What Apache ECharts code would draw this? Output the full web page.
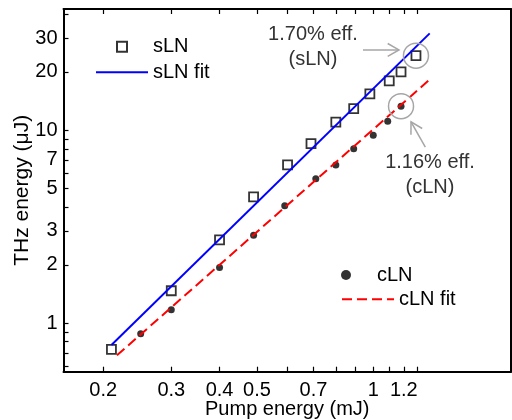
<!DOCTYPE html>
<html>
<head>
<meta charset="utf-8">
<script src="https://cdn.jsdelivr.net/npm/echarts@6/dist/echarts.min.js"></script>
<style>
html, body { margin: 0; padding: 0; background: #fff; }
#chart { width: 512px; height: 420px; }
</style>
</head>
<body>
<div id="chart"></div>
<script>
// pump energy (mJ) and THz energy (uJ)
const sLNPump = [0.21, 0.3, 0.4, 0.49, 0.6, 0.69, 0.8, 0.89, 0.98, 1.1, 1.18, 1.29]
const sLNTHz = [0.73, 1.47, 2.7, 4.5, 6.6, 8.5, 11.0, 12.9, 15.4, 18.0, 20.0, 24.3]
const cLNPump = [0.25, 0.3, 0.4, 0.49, 0.59, 0.71, 0.8, 0.89, 1.0, 1.09, 1.18]
const cLNTHz = [0.88, 1.17, 1.94, 2.85, 4.05, 5.6, 6.6, 8.0, 9.4, 11.1, 13.3]

// fit lines (end points)
const sLNFitPump = [0.21, 1.4]
const sLNFitTHz = [0.77, 31.7]
const cLNFitPump = [0.217, 1.41]
const cLNFitTHz = [0.68, 18.5]

const xTicks = [0.2, 0.3, 0.4, 0.5, 0.6, 0.7, 0.8, 0.9, 1, 1.1, 1.2, 1.3]
const xTickLabels = [0.2, 0.3, 0.4, 0.5, 0.7, 1, 1.2]
const yTicks = [0.6, 0.7, 0.8, 0.9, 1, 2, 3, 4, 5, 6, 7, 8, 9, 10, 20, 30, 40]
const yTickLabels = [1, 2, 3, 5, 7, 10, 20, 30]

const FONT = '"Liberation Sans", Arial, sans-serif'
const GRAY = '#a6a6a6'
// square in the middle of a 52x10 box (the lone moves only widen the box)
const LEGEND_SQUARE = 'path://M-21,0M31,10M0,0H10V10H0Z'

const zip = (xs, ys) => xs.map((x, i) => [x, ys[i]])

const xRange = { min: 0.1578, max: 2.273 }
const yRange = { min: 0.5594, max: 42.4 }

const frame = { show: true, lineStyle: { color: '#000', width: 2 } }
const ticks = (values) => ({ show: true, inside: true, length: 5, customValues: values, lineStyle: { color: '#000', width: 1.2 } })

// one legend per entry so each can sit where the original put it
function legendAt (item, left, top) {
  return {
    data: [item],
    left: left,
    top: top,
    padding: 0,
    itemWidth: 52,
    itemHeight: 10,
    selectedMode: false,
    textStyle: { fontFamily: FONT, fontSize: 20, color: '#000' }
  }
}

const chart = echarts.init(document.getElementById('chart'))

chart.setOption({
  animation: false,
  grid: { left: 63.5, right: 1, top: 9, bottom: 48.3, outerBoundsMode: 'none', containLabel: false },
  legend: [
    legendAt({ name: 'sLN', icon: LEGEND_SQUARE }, 95, 36.7),
    legendAt({ name: 'sLN fit', itemStyle: { opacity: 0 } }, 95, 62.3),
    legendAt({ name: 'cLN' }, 341, 265),
    legendAt({ name: 'cLN fit', itemStyle: { opacity: 0 } }, 341, 289.3)
  ],
  xAxis: [
    {
      type: 'log',
      min: xRange.min,
      max: xRange.max,
      name: 'Pump energy (mJ)',
      nameLocation: 'middle',
      nameGap: 28,
      nameMoveOverlap: false,
      nameTextStyle: { fontFamily: FONT, fontSize: 20, color: '#000' },
      axisLine: frame,
      axisTick: ticks(xTicks),
      minorTick: { show: false },
      splitLine: { show: false },
      axisLabel: { customValues: xTickLabels, margin: 9, fontFamily: FONT, fontSize: 20, color: '#000' }
    },
    {
      type: 'log',
      position: 'top',
      min: xRange.min,
      max: xRange.max,
      axisLine: frame,
      axisTick: ticks(xTicks),
      splitLine: { show: false },
      axisLabel: { show: false }
    }
  ],
  yAxis: [
    {
      type: 'log',
      min: yRange.min,
      max: yRange.max,
      name: 'THz energy (μJ)',
      nameLocation: 'middle',
      nameGap: 31,
      nameMoveOverlap: false,
      nameTextStyle: { fontFamily: FONT, fontSize: 21, color: '#000' },
      axisLine: frame,
      axisTick: ticks(yTicks),
      splitLine: { show: false },
      axisLabel: { customValues: yTickLabels, margin: 6, fontFamily: FONT, fontSize: 20, color: '#000' }
    },
    {
      type: 'log',
      position: 'right',
      min: yRange.min,
      max: yRange.max,
      axisLine: frame,
      axisTick: { show: false },
      splitLine: { show: false },
      axisLabel: { show: false }
    }
  ],
  series: [
    {
      name: 'sLN fit',
      type: 'line',
      data: zip(sLNFitPump, sLNFitTHz),
      symbol: 'none',
      lineStyle: { color: '#0000ff', width: 2 },
      itemStyle: { color: '#0000ff' }
    },
    {
      name: 'cLN fit',
      type: 'line',
      data: zip(cLNFitPump, cLNFitTHz),
      symbol: 'none',
      lineStyle: { color: '#ff0000', width: 2, type: [10, 5] },
      itemStyle: { color: '#ff0000' }
    },
    {
      name: 'sLN',
      type: 'scatter',
      data: zip(sLNPump, sLNTHz),
      symbol: 'rect',
      symbolSize: 9,
      itemStyle: { color: 'rgba(255,255,255,0)', borderColor: '#000', borderWidth: 1.8 },
      markPoint: {
        silent: true,
        symbol: 'circle',
        symbolSize: 25,
        label: { show: false },
        itemStyle: { color: 'rgba(0,0,0,0)', borderColor: GRAY, borderWidth: 1.5 },
        data: [{ coord: [sLNPump[sLNPump.length - 1], sLNTHz[sLNTHz.length - 1]] }]
      }
    },
    {
      name: 'cLN',
      type: 'scatter',
      data: zip(cLNPump, cLNTHz),
      symbol: 'circle',
      symbolSize: 7,
      itemStyle: { color: '#000' },
      markPoint: {
        silent: true,
        symbol: 'circle',
        symbolSize: 25,
        label: { show: false },
        itemStyle: { color: 'rgba(0,0,0,0)', borderColor: GRAY, borderWidth: 1.5 },
        data: [{ coord: [cLNPump[cLNPump.length - 1], cLNTHz[cLNTHz.length - 1]] }]
      }
    }
  ]
})

// arrows + efficiency notes, placed relative to the circled points
function arrow (tail, tip) {
  const ang = Math.atan2(tip[1] - tail[1], tip[0] - tail[0])
  const head = 13
  const spread = 0.52
  const p1 = [tip[0] - head * Math.cos(ang - spread), tip[1] - head * Math.sin(ang - spread)]
  const p2 = [tip[0] - head * Math.cos(ang + spread), tip[1] - head * Math.sin(ang + spread)]
  const style = { stroke: GRAY, lineWidth: 1.5, fill: null }
  return [
    { type: 'line', silent: true, shape: { x1: tail[0], y1: tail[1], x2: tip[0], y2: tip[1] }, style: style },
    { type: 'polyline', silent: true, shape: { points: [p1, tip, p2] }, style: style }
  ]
}

function note (text, x, y) {
  return {
    type: 'text',
    silent: true,
    x: x,
    y: y,
    style: {
      text: text,
      fontFamily: FONT,
      fontSize: 20,
      lineHeight: 25,
      fill: '#333',
      align: 'center',
      verticalAlign: 'middle'
    }
  }
}

const ps = chart.convertToPixel({ seriesIndex: 2 }, [sLNPump[sLNPump.length - 1], sLNTHz[sLNTHz.length - 1]])
const pc = chart.convertToPixel({ seriesIndex: 3 }, [cLNPump[cLNPump.length - 1], cLNTHz[cLNTHz.length - 1]])

chart.setOption({
  graphic: [
    note('1.70% eff.\n(sLN)', ps[0] - 103, ps[1] - 9),
    ...arrow([ps[0] - 53, ps[1] - 5.7], [ps[0] - 17, ps[1] - 5.7]),
    note('1.16% eff.\n(cLN)', pc[0] + 29, pc[1] + 69),
    ...arrow([pc[0] + 24.3, pc[1] + 41], [pc[0] + 10, pc[1] + 15.7])
  ]
})
</script>
</body>
</html>
